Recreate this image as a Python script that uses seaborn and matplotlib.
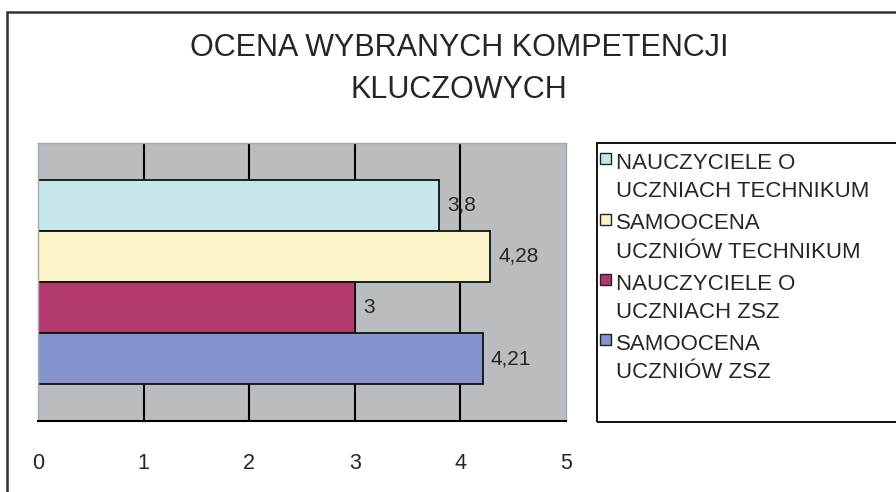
import pandas as pd
import matplotlib.pyplot as plt
import seaborn as sns
from matplotlib.patches import Rectangle
from matplotlib.legend_handler import HandlerPatch

# dane z wykresu
seria = [
    "NAUCZYCIELE O\nUCZNIACH TECHNIKUM",
    "SAMOOCENA\nUCZNIÓW TECHNIKUM",
    "NAUCZYCIELE O\nUCZNIACH ZSZ",
    "SAMOOCENA\nUCZNIÓW ZSZ",
]
wartosci = [3.8, 4.28, 3.0, 4.21]
kolory = ["#C6E7EA", "#FAF3C6", "#B3386D", "#8493CB"]
x_ticks = [0, 1, 2, 3, 4, 5]

df = pd.DataFrame({"grupa": ["ocena"] * len(seria), "seria": seria, "wartosc": wartosci})

sns.set_style("white")
plt.rcParams["font.family"] = ["Liberation Sans", "DejaVu Sans"]

fig = plt.figure(figsize=(8.96, 4.92), dpi=100)
ax = fig.add_axes([38 / 896, 1 - 421 / 492, 528 / 896, 278 / 492])

sns.barplot(data=df, x="wartosc", y="grupa", hue="seria", hue_order=seria,
            palette=kolory, width=0.734, edgecolor="#111111", linewidth=1.3,
            saturation=1, legend=False, ax=ax)

ax.set_facecolor("#B9BDBF")
ax.set_xlim(0, 5)
ax.set_ylim(0.5, -0.5)
ax.set_xticks(x_ticks)
ax.set_xticklabels([str(t) for t in x_ticks], fontsize=15.5)
ax.set_yticks([])
ax.set_xlabel("")
ax.set_ylabel("")
ax.tick_params(axis="x", direction="out", length=7, width=1.3, color="black", pad=16)

ax.xaxis.grid(True, color="black", linewidth=1.5)
ax.set_axisbelow(True)
gl = ax.get_xgridlines()
gl[0].set_visible(False)
gl[-1].set_visible(False)

for s in ["left", "top", "right"]:
    ax.spines[s].set_color("#A5A9AB")
    ax.spines[s].set_linewidth(1)
ax.spines["bottom"].set_color("black")
ax.spines["bottom"].set_linewidth(1.5)

# etykiety wartości z przecinkiem
for cont, v in zip(ax.containers, wartosci):
    ax.bar_label(cont, labels=[f"{v:g}".replace(".", ",")], padding=6, fontsize=15)

# tytuł
fig.text(459 / 896, 1 - 69 / 492, "OCENA WYBRANYCH KOMPETENCJI\nKLUCZOWYCH",
         ha="center", va="center", fontsize=22, linespacing=1.5)

# legenda z kwadratem przy pierwszej linii
def top_square(legend, orig_handle, xdescent, ydescent, width, height, fontsize):
    s = 8
    return Rectangle((-xdescent, -ydescent + 15.3), s, s)

handles = [Rectangle((0, 0), 1, 1, facecolor=c, edgecolor="#222222", linewidth=1) for c in kolory]
leg = fig.legend(handles, seria, loc="upper left", bbox_to_anchor=(600 / 896, 1 - 153 / 492),
                 fontsize=16, frameon=False,
                 handlelength=0.5, handletextpad=0.2, borderpad=0, labelspacing=0.5,
                 borderaxespad=0, handler_map={Rectangle: HandlerPatch(patch_func=top_square)})
for t in leg.get_texts():
    t.set_linespacing(1.45)

# ramka legendy (wychodzi poza prawą krawędź)
fig.patches.append(Rectangle((597 / 896, 1 - 422 / 492), 1, 279 / 492, transform=fig.transFigure,
                             fill=False, edgecolor="black", linewidth=1.3))

# ramka całego wykresu
fig.patches.append(Rectangle((7 / 896, -0.1), 2, 1.1 - 12 / 492, transform=fig.transFigure,
                             fill=False, edgecolor="#333333", linewidth=1.8))

fig.savefig("out.png", dpi=100)
